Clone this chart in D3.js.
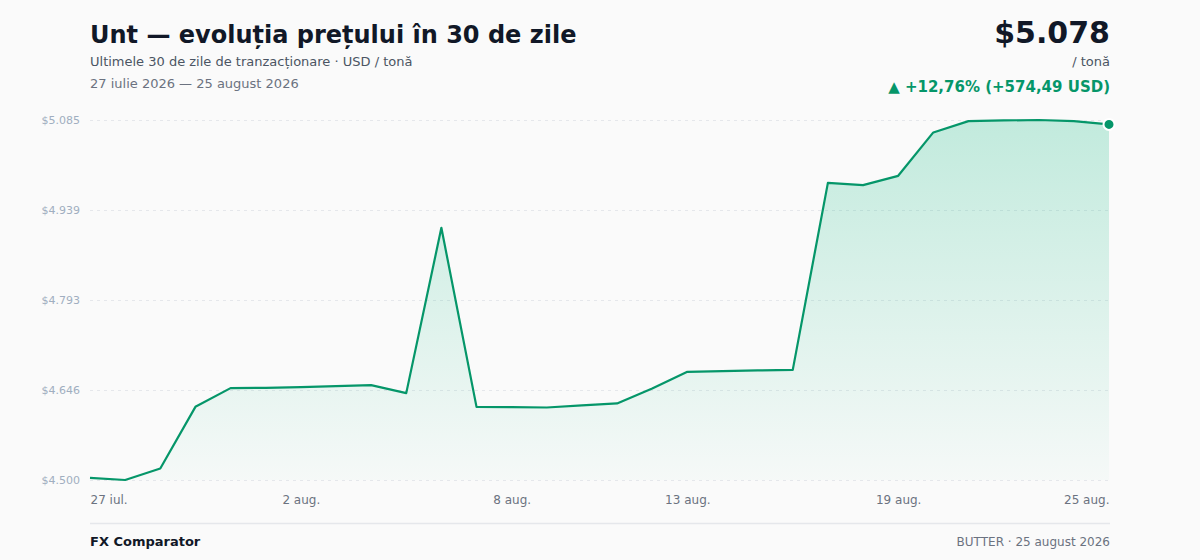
<!DOCTYPE html>
<html lang="ro">
<head>
<meta charset="utf-8">
<script src="https://cdn.jsdelivr.net/npm/d3@7"></script>
<style>
  html, body { margin: 0; padding: 0; background: #fafafa; }
  svg { display: block; font-family: "DejaVu Sans", sans-serif; }
</style>
</head>
<body>
<div id="wrapper"></div>
<script>
// data
const dates = [
  '2026-07-27', '2026-07-28', '2026-07-29', '2026-07-30', '2026-07-31',
  '2026-08-01', '2026-08-02', '2026-08-03', '2026-08-04', '2026-08-05',
  '2026-08-06', '2026-08-07', '2026-08-08', '2026-08-09', '2026-08-10',
  '2026-08-11', '2026-08-12', '2026-08-13', '2026-08-14', '2026-08-15',
  '2026-08-16', '2026-08-17', '2026-08-18', '2026-08-19', '2026-08-20',
  '2026-08-21', '2026-08-22', '2026-08-23', '2026-08-24', '2026-08-25'
];
const prices = [
  4503.51, 4500.2, 4519.0, 4619.1, 4649.5,
  4650.0, 4651.0, 4652.8, 4654.4, 4641.4,
  4910.0, 4619.0, 4618.6, 4618.0, 4621.4,
  4624.6, 4649.0, 4676.0, 4677.0, 4678.3,
  4679.2, 4983.1, 4979.4, 4994.5, 5065.0,
  5083.4, 5084.5, 5085.2, 5083.4, 5078.0
];
const xTickDates = ['2026-07-27', '2026-08-02', '2026-08-08', '2026-08-13', '2026-08-19', '2026-08-25'];
const xTickLabels = ['27 iul.', '2 aug.', '8 aug.', '13 aug.', '19 aug.', '25 aug.'];
const yTickCount = 5;

const parseDate = d3.timeParse('%Y-%m-%d');
const data = dates.map((d, i) => ({ date: parseDate(d), value: prices[i] }));

const width = 1200;
const height = 560;
const margin = { top: 120, right: 91, bottom: 80, left: 90 };
const boundedWidth = width - margin.left - margin.right;
const boundedHeight = height - margin.top - margin.bottom;

const green = '#059669';
const numFmt = v => Math.round(v).toString().replace(/\B(?=(\d{3})+(?!\d))/g, '.');

const svg = d3.select('#wrapper')
  .append('svg')
  .attr('width', width)
  .attr('height', height);

svg.append('rect')
  .attr('width', width)
  .attr('height', height)
  .attr('fill', '#fafafa');

// scales
const xAccessor = d => d.date;
const yAccessor = d => d.value;

const xScale = d3.scaleTime()
  .domain(d3.extent(data, xAccessor))
  .range([margin.left, margin.left + boundedWidth]);

const yExtent = d3.extent(data, yAccessor);
const yScale = d3.scaleLinear()
  .domain(yExtent)
  .range([margin.top + boundedHeight, margin.top]);

const yTicks = d3.range(yTickCount).map(i => yExtent[0] + i * (yExtent[1] - yExtent[0]) / (yTickCount - 1));

// gradient for the area
const defs = svg.append('defs');
const grad = defs.append('linearGradient')
  .attr('id', 'areaGradient')
  .attr('gradientUnits', 'userSpaceOnUse')
  .attr('x1', 0).attr('y1', yScale(yExtent[1]))
  .attr('x2', 0).attr('y2', yScale(yExtent[0]));
grad.append('stop').attr('offset', '0%').attr('stop-color', '#10b981').attr('stop-opacity', 0.24);
grad.append('stop').attr('offset', '100%').attr('stop-color', '#10b981').attr('stop-opacity', 0.02);

// grid + y labels
const yAxis = svg.append('g')
  .attr('transform', `translate(${margin.left},0)`)
  .call(d3.axisLeft(yScale).tickValues(yTicks).tickSize(0).tickPadding(10).tickFormat(d => '$' + numFmt(d)));
yAxis.select('.domain').remove();
yAxis.selectAll('.tick text')
  .attr('fill', '#a0aec0')
  .attr('font-size', 11)
  .attr('font-family', '"DejaVu Sans", sans-serif');
yAxis.selectAll('.tick')
  .append('line')
  .attr('x1', 0)
  .attr('x2', boundedWidth)
  .attr('stroke', '#e5e7eb')
  .attr('stroke-dasharray', '3 4')
  .attr('stroke-width', 1);

// area + line
const area = d3.area()
  .x(d => xScale(xAccessor(d)))
  .y0(yScale(yExtent[0]))
  .y1(d => yScale(yAccessor(d)));

const line = d3.line()
  .x(d => xScale(xAccessor(d)))
  .y(d => yScale(yAccessor(d)));

svg.append('path')
  .attr('d', area(data))
  .attr('fill', 'url(#areaGradient)');

svg.append('path')
  .attr('d', line(data))
  .attr('fill', 'none')
  .attr('stroke', green)
  .attr('stroke-width', 2.2)
  .attr('stroke-linejoin', 'round');

const last = data[data.length - 1];
svg.append('circle')
  .attr('cx', xScale(xAccessor(last)))
  .attr('cy', yScale(yAccessor(last)))
  .attr('r', 5.5)
  .attr('fill', green)
  .attr('stroke', '#ffffff')
  .attr('stroke-width', 2);

// x labels
const xAxis = svg.append('g')
  .attr('transform', `translate(0,${margin.top + boundedHeight})`)
  .call(d3.axisBottom(xScale)
    .tickValues(xTickDates.map(parseDate))
    .tickSize(0)
    .tickPadding(15)
    .tickFormat((d, i) => xTickLabels[i]));
xAxis.select('.domain').remove();
xAxis.selectAll('.tick text')
  .attr('fill', '#6b7280')
  .attr('font-size', 12)
  .attr('font-family', '"DejaVu Sans", sans-serif')
  .attr('text-anchor', (d, i) => i === 0 ? 'start' : (i === xTickDates.length - 1 ? 'end' : 'middle'));

// header
svg.append('text')
  .attr('x', 90).attr('y', 43)
  .attr('font-size', 24).attr('font-weight', 'bold')
  .attr('fill', '#111827')
  .text('Unt — evoluția prețului în 30 de zile');

svg.append('text')
  .attr('x', 90).attr('y', 66)
  .attr('font-size', 13).attr('fill', '#4b5563')
  .text('Ultimele 30 de zile de tranzacționare · USD / tonă');

svg.append('text')
  .attr('x', 90).attr('y', 88)
  .attr('font-size', 13).attr('fill', '#6b7280')
  .text('27 iulie 2026 — 25 august 2026');

const rightX = margin.left + boundedWidth + 1;
const first = data[0];
const change = yAccessor(last) - yAccessor(first);
const pct = change / yAccessor(first) * 100;
const commaFmt = v => v.toFixed(2).replace('.', ',');

svg.append('text')
  .attr('x', rightX).attr('y', 43)
  .attr('text-anchor', 'end')
  .attr('font-size', 30).attr('font-weight', 'bold')
  .attr('fill', '#111827')
  .text('$' + numFmt(yAccessor(last)));

svg.append('text')
  .attr('x', rightX).attr('y', 66)
  .attr('text-anchor', 'end')
  .attr('font-size', 13).attr('fill', '#4b5563')
  .text('/ tonă');

svg.append('text')
  .attr('x', rightX).attr('y', 92)
  .attr('text-anchor', 'end')
  .attr('font-size', 15).attr('font-weight', 'bold')
  .attr('fill', green)
  .text(`▲ +${commaFmt(pct)}% (+${commaFmt(change)} USD)`);

// footer
svg.append('line')
  .attr('x1', margin.left).attr('x2', rightX)
  .attr('y1', 523.5).attr('y2', 523.5)
  .attr('stroke', '#e5e7eb')
  .attr('stroke-width', 1.5);

svg.append('text')
  .attr('x', 90).attr('y', 546)
  .attr('font-size', 13).attr('font-weight', 'bold')
  .attr('fill', '#111827')
  .text('FX Comparator');

svg.append('text')
  .attr('x', rightX).attr('y', 546)
  .attr('text-anchor', 'end')
  .attr('font-size', 12).attr('fill', '#6b7280')
  .text('BUTTER · 25 august 2026');
</script>
</body>
</html>
